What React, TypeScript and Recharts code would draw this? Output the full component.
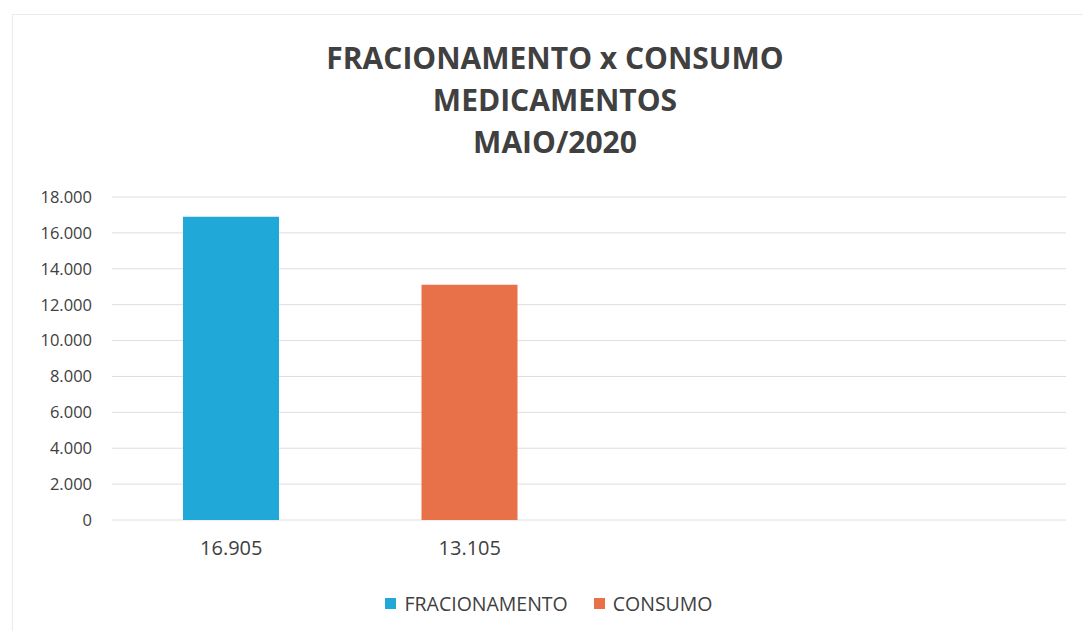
import React from "react";
import { BarChart, Bar, XAxis, YAxis, CartesianGrid, Legend } from "recharts";

const categories = ["16.905", "13.105", " ", "  "];
const fracionamento = [16905, null, null, null];
const consumo = [null, 13105, null, null];
const yTicks = [0, 2000, 4000, 6000, 8000, 10000, 12000, 14000, 16000, 18000];
const titleLines = ["FRACIONAMENTO x CONSUMO", "MEDICAMENTOS", "MAIO/2020"];
const seriesNames = ["FRACIONAMENTO", "CONSUMO"];

const BLUE = "#20a8d8";
const ORANGE = "#e9714a";

const data = categories.map((c, i) => ({
  cat: c,
  fracionamento: fracionamento[i],
  consumo: consumo[i],
}));

const fmt = (v: number) => String(v).replace(/\B(?=(\d{3})+(?!\d))/g, ".");

const LegendContent = () => (
  <div
    style={{
      height: 30,
      display: "flex",
      justifyContent: "center",
      alignItems: "center",
      fontFamily: "'Open Sans', sans-serif",
      fontSize: 19.5,
      color: "#404040",
      paddingLeft: 0,
    }}
  >
    {[BLUE, ORANGE].map((col, i) => (
      <div key={i} style={{ display: "flex", alignItems: "center", marginRight: i === 0 ? 26 : 0 }}>
        <span style={{ width: 11, height: 11, background: col, display: "inline-block", marginRight: 8 }} />
        <span>{seriesNames[i]}</span>
      </div>
    ))}
  </div>
);

export default function App() {
  return (
    <div style={{ position: "absolute", left: 0, top: 0, width: 1083, height: 631, background: "#fff", overflow: "hidden" }}>
      <div
        style={{
          position: "absolute",
          left: 12,
          top: 14,
          width: 1080,
          height: 630,
          borderTop: "1px solid #ebebeb",
          borderLeft: "1px solid #ebebeb",
        }}
      />
      <div
        style={{
          position: "absolute",
          left: 0,
          top: 37,
          width: 1110,
          textAlign: "center",
          fontFamily: "'Open Sans', sans-serif",
          fontWeight: 700,
          fontSize: 30,
          lineHeight: "42px",
          color: "#404040",
        }}
      >
        {titleLines.map((t, i) => (
          <div key={i}>{t}</div>
        ))}
      </div>
      <div style={{ position: "absolute", left: 0, top: 0 }}>
        <BarChart
          width={1083}
          height={631}
          data={data}
          margin={{ top: 197, right: 17, bottom: 13, left: 32 }}
          barSize={96}
        >
          <CartesianGrid horizontal vertical={false} stroke="#dedede" strokeWidth={1} />
          <XAxis
            dataKey="cat"
            axisLine={false}
            tickLine={false}
            tickSize={0}
            tickMargin={21}
            height={68}
            interval={0}
            tick={{ fill: "#404040", fontSize: 20, fontFamily: "'Open Sans', sans-serif" }}
          />
          <YAxis
            width={80}
            domain={[0, 18000]}
            ticks={yTicks}
            interval={0}
            axisLine={false}
            tickLine={false}
            tickSize={0}
            tickMargin={20}
            tickFormatter={fmt}
            tick={{ fill: "#404040", fontSize: 16.5, fontFamily: "'Open Sans', sans-serif" }}
          />
          <Legend verticalAlign="bottom" height={30} content={<LegendContent />} />
          <Bar dataKey="fracionamento" name={seriesNames[0]} stackId="a" fill={BLUE} isAnimationActive={false} />
          <Bar dataKey="consumo" name={seriesNames[1]} stackId="a" fill={ORANGE} isAnimationActive={false} />
        </BarChart>
      </div>
    </div>
  );
}
